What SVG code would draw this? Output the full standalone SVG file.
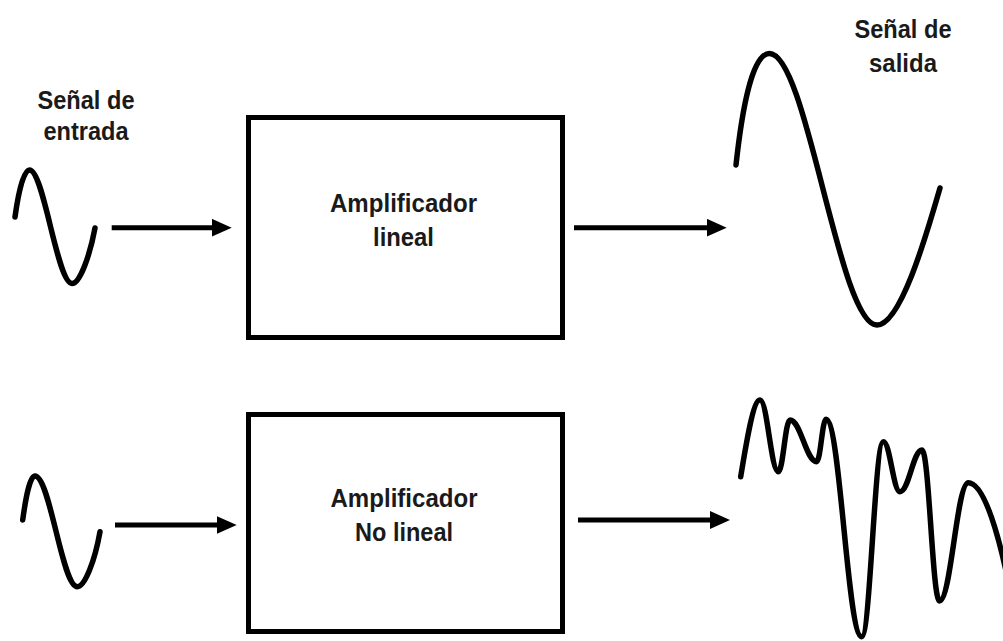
<svg xmlns="http://www.w3.org/2000/svg" width="1003" height="641" viewBox="0 0 1003 641">
  <style>
    .box { fill: #ffffff; stroke: #000000; stroke-width: 5; }
    .lbl { font-family: "Liberation Sans", Arial, sans-serif; font-weight: bold; font-size: 25px; fill: #1a1a1a; text-anchor: middle; }
    .wave { fill: none; stroke: #000000; stroke-width: 5.5; stroke-linecap: round; stroke-linejoin: round; }
    .conn { stroke: #000000; stroke-width: 5; fill: none; }
  </style>
  <defs>
    <marker id="head" viewBox="0 0 20 18" refX="10" refY="9" markerWidth="20" markerHeight="18" markerUnits="userSpaceOnUse" orient="auto">
      <path d="M0,0 L20,9 L0,18 Z" fill="#000000"/>
    </marker>
  </defs>
  <rect width="1003" height="641" fill="#ffffff"/>

  <g id="input-label">
    <text class="lbl" x="86" y="109" textLength="97" lengthAdjust="spacingAndGlyphs">Señal de</text>
    <text class="lbl" x="86" y="140" textLength="85" lengthAdjust="spacingAndGlyphs">entrada</text>
  </g>
  <g id="output-label">
    <text class="lbl" x="903" y="38" textLength="97" lengthAdjust="spacingAndGlyphs">Señal de</text>
    <text class="lbl" x="903" y="72" textLength="68" lengthAdjust="spacingAndGlyphs">salida</text>
  </g>

  <g id="input-signal-1">
    <path class="wave" d="M15,217 C19,188 24,170 29.5,170 C44,170 57,283.5 72,283.5 C80,283.5 90,255 95,228"/>
  </g>
  <g id="linear-amplifier">
    <rect class="box" x="248.5" y="117.5" width="314" height="220"/>
    <text class="lbl" x="403.5" y="212" textLength="147" lengthAdjust="spacingAndGlyphs">Amplificador</text>
    <text class="lbl" x="403.5" y="246" textLength="61" lengthAdjust="spacingAndGlyphs">lineal</text>
  </g>
  <g id="output-signal-1">
    <path class="wave" d="M736,165 C742,110 752,53.5 769.5,53.5 C807,53.5 839,325 877,325 C900,325 925,240 940,188"/>
  </g>

  <g id="input-signal-2">
    <path class="wave" d="M22.7,520 C26,496 30,476 35,476 C50,476 62,586.7 77.3,586.7 C85,586.7 95,560 100,531.7"/>
  </g>
  <g id="nonlinear-amplifier">
    <rect class="box" x="248.5" y="414.5" width="314" height="217"/>
    <text class="lbl" x="404" y="507" textLength="147" lengthAdjust="spacingAndGlyphs">Amplificador</text>
    <text class="lbl" x="404" y="541" textLength="98" lengthAdjust="spacingAndGlyphs">No lineal</text>
  </g>
  <g id="output-signal-2">
    <path class="wave" d="M740.7,476.7 C746,445 753,400 760,400 C767.3,400 771,471.7 778.3,471.7 C783,471.7 785.3,420 790,420 C800.7,420 806,461.7 816.7,461.7 C820.4,461.7 822.3,419.3 826,419.3 C840.3,419.3 847.4,636.7 861.7,636.7 C870.3,636.7 874.7,441.7 883.3,441.7 C890,441.7 893.3,491.7 900,491.7 C908.8,491.7 913.2,450 922,450 C929,450 932.5,601 939.5,601 C951,601 956.8,482.7 968.3,482.7 C985,482.7 1000,540 1010,590"/>
  </g>

  <g id="connectors">
    <line class="conn" x1="111.7" y1="227.7" x2="221.7" y2="227.7" marker-end="url(#head)"/>
    <line class="conn" x1="574" y1="227.7" x2="716.7" y2="227.7" marker-end="url(#head)"/>
    <line class="conn" x1="115" y1="525" x2="226.7" y2="525" marker-end="url(#head)"/>
    <line class="conn" x1="578" y1="520" x2="720" y2="520" marker-end="url(#head)"/>
  </g>
</svg>
